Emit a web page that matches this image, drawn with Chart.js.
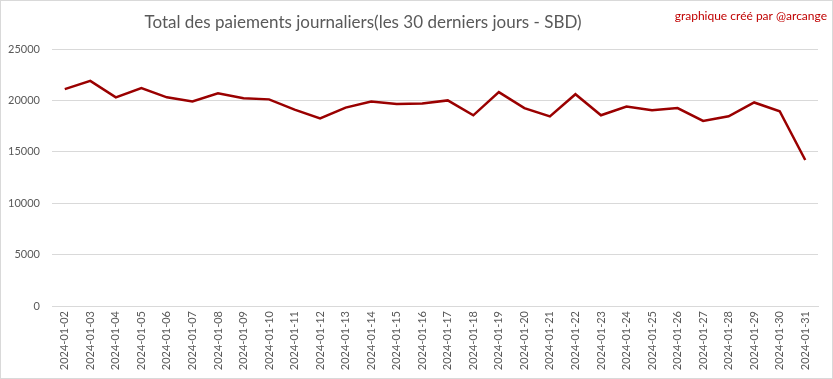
<!DOCTYPE html>
<html><head><meta charset="utf-8">
<script src="https://cdn.jsdelivr.net/npm/chart.js@4/dist/chart.umd.min.js"></script>
<style>
html,body{margin:0;padding:0;background:#fff;}
#wrap{position:relative;width:833px;height:379px;}
#wrap:after{content:"";position:absolute;left:0;top:0;width:831px;height:377px;border:1px solid #d9d9d9;pointer-events:none;}
</style></head>
<body><div id="wrap"><canvas id="c" width="833" height="379"></canvas></div>
<script>
const categories = ["2024-01-02","2024-01-03","2024-01-04","2024-01-05","2024-01-06","2024-01-07","2024-01-08","2024-01-09","2024-01-10","2024-01-11","2024-01-12","2024-01-13","2024-01-14","2024-01-15","2024-01-16","2024-01-17","2024-01-18","2024-01-19","2024-01-20","2024-01-21","2024-01-22","2024-01-23","2024-01-24","2024-01-25","2024-01-26","2024-01-27","2024-01-28","2024-01-29","2024-01-30","2024-01-31"];
const payments = [21100,21900,20300,21200,20300,19900,20700,20200,20100,19100,18250,19300,19900,19650,19700,20000,18550,20800,19250,18450,20600,18550,19400,19050,19250,18000,18450,19800,18950,14200];
const titleText = "Total des paiements journaliers(les 30 derniers jours - SBD)";
const creditText = "graphique créé par @arcange";

const textPlugin = {
  id:'texts',
  afterDraw(chart){
    const ctx = chart.ctx;
    ctx.save();
    ctx.fillStyle = '#595959';
    ctx.font = '17px Lato';
    ctx.textAlign = 'center';
    ctx.textBaseline = 'middle';
    ctx.fillText(titleText, 363, 23);
    ctx.fillStyle = '#C00000';
    ctx.font = '12px Lato';
    ctx.textAlign = 'right';
    ctx.fillText(creditText, 827, 16);
    ctx.restore();
  }
};

new Chart(document.getElementById('c'), {
  type:'line',
  data:{labels:categories, datasets:[{data:payments, borderColor:'#9a0000', borderWidth:2.5, pointRadius:0, tension:0, fill:false}]},
  options:{
    responsive:false, animation:false,
    layout:{padding:{top:49,right:15,left:0,bottom:0}},
    plugins:{legend:{display:false}, title:{display:false}, tooltip:{enabled:false}},
    scales:{
      x:{
        offset:true,
        grid:{display:false, drawTicks:false},
        border:{display:true, color:'#d9d9d9'},
        ticks:{color:'#595959', font:{family:'Lato', size:11}, minRotation:90, maxRotation:90, autoSkip:false, padding:5},
        afterFit(s){ s.height = 73; }
      },
      y:{
        min:0, max:25000,
        grid:{color:'#d9d9d9', drawTicks:false},
        border:{display:false},
        ticks:{stepSize:5000, color:'#595959', font:{family:'Lato', size:11}, padding:12, callback:(v)=>String(v)},
        afterFit(s){ s.width = 52; }
      }
    }
  },
  plugins:[textPlugin]
});
</script></body></html>
